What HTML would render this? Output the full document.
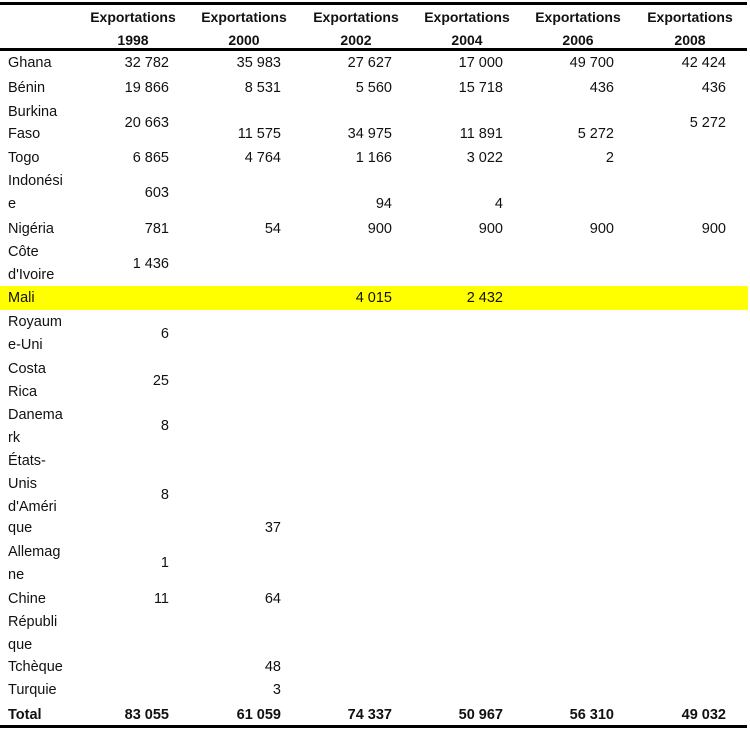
<!DOCTYPE html>
<html><head><meta charset="utf-8"><style>
body{margin:0;width:750px;height:730px;background:#fff;position:relative;overflow:hidden;font-family:"Liberation Sans",sans-serif;font-size:14.5px;color:#111}
.t{position:absolute;line-height:20px;white-space:nowrap}
.l{left:8px}
.r{text-align:right;width:100px}
.h{font-weight:bold;text-align:center;width:112px;font-size:14px}
.b{font-weight:bold}
.line{position:absolute;left:0;width:747px;background:#000}
</style></head><body>
<div class="line" style="top:2px;height:3px"></div>
<div class="line" style="top:48px;height:3px"></div>
<div class="line" style="top:725px;height:3px"></div>
<div style="position:absolute;left:0;top:286px;width:748px;height:24px;background:#ffff00"></div>

<div class="t h" style="left:77px;top:7px">Exportations</div><div class="t h" style="left:77px;top:30px">1998</div>
<div class="t h" style="left:188px;top:7px">Exportations</div><div class="t h" style="left:188px;top:30px">2000</div>
<div class="t h" style="left:300px;top:7px">Exportations</div><div class="t h" style="left:300px;top:30px">2002</div>
<div class="t h" style="left:411px;top:7px">Exportations</div><div class="t h" style="left:411px;top:30px">2004</div>
<div class="t h" style="left:522px;top:7px">Exportations</div><div class="t h" style="left:522px;top:30px">2006</div>
<div class="t h" style="left:634px;top:7px">Exportations</div><div class="t h" style="left:634px;top:30px">2008</div>

<div class="t l" style="top:53px">Ghana</div>
<div class="t r" style="left:69px;top:53px">32 782</div><div class="t r" style="left:181px;top:53px">35 983</div><div class="t r" style="left:292px;top:53px">27 627</div><div class="t r" style="left:403px;top:53px">17 000</div><div class="t r" style="left:514px;top:53px">49 700</div><div class="t r" style="left:626px;top:53px">42 424</div>

<div class="t l" style="top:78px">Bénin</div>
<div class="t r" style="left:69px;top:78px">19 866</div><div class="t r" style="left:181px;top:78px">8 531</div><div class="t r" style="left:292px;top:78px">5 560</div><div class="t r" style="left:403px;top:78px">15 718</div><div class="t r" style="left:514px;top:78px">436</div><div class="t r" style="left:626px;top:78px">436</div>

<div class="t l" style="top:102px">Burkina</div><div class="t l" style="top:124px">Faso</div>
<div class="t r" style="left:69px;top:113px">20 663</div><div class="t r" style="left:181px;top:124px">11 575</div><div class="t r" style="left:292px;top:124px">34 975</div><div class="t r" style="left:403px;top:124px">11 891</div><div class="t r" style="left:514px;top:124px">5 272</div><div class="t r" style="left:626px;top:113px">5 272</div>

<div class="t l" style="top:148px">Togo</div>
<div class="t r" style="left:69px;top:148px">6 865</div><div class="t r" style="left:181px;top:148px">4 764</div><div class="t r" style="left:292px;top:148px">1 166</div><div class="t r" style="left:403px;top:148px">3 022</div><div class="t r" style="left:514px;top:148px">2</div>

<div class="t l" style="top:171px">Indonési</div><div class="t l" style="top:194px">e</div>
<div class="t r" style="left:69px;top:183px">603</div><div class="t r" style="left:292px;top:194px">94</div><div class="t r" style="left:403px;top:194px">4</div>

<div class="t l" style="top:219px">Nigéria</div>
<div class="t r" style="left:69px;top:219px">781</div><div class="t r" style="left:181px;top:219px">54</div><div class="t r" style="left:292px;top:219px">900</div><div class="t r" style="left:403px;top:219px">900</div><div class="t r" style="left:514px;top:219px">900</div><div class="t r" style="left:626px;top:219px">900</div>

<div class="t l" style="top:242px">Côte</div><div class="t l" style="top:265px">d'Ivoire</div>
<div class="t r" style="left:69px;top:254px">1 436</div>

<div class="t l" style="top:288px">Mali</div>
<div class="t r" style="left:292px;top:288px">4 015</div><div class="t r" style="left:403px;top:288px">2 432</div>

<div class="t l" style="top:312px">Royaum</div><div class="t l" style="top:335px">e-Uni</div>
<div class="t r" style="left:69px;top:324px">6</div>

<div class="t l" style="top:359px">Costa</div><div class="t l" style="top:382px">Rica</div>
<div class="t r" style="left:69px;top:371px">25</div>

<div class="t l" style="top:405px">Danema</div><div class="t l" style="top:428px">rk</div>
<div class="t r" style="left:69px;top:416px">8</div>

<div class="t l" style="top:451px">États-</div><div class="t l" style="top:474px">Unis</div><div class="t l" style="top:497px">d'Améri</div><div class="t l" style="top:518px">que</div>
<div class="t r" style="left:69px;top:485px">8</div><div class="t r" style="left:181px;top:518px">37</div>

<div class="t l" style="top:542px">Allemag</div><div class="t l" style="top:565px">ne</div>
<div class="t r" style="left:69px;top:553px">1</div>

<div class="t l" style="top:589px">Chine</div>
<div class="t r" style="left:69px;top:589px">11</div><div class="t r" style="left:181px;top:589px">64</div>

<div class="t l" style="top:612px">Républi</div><div class="t l" style="top:635px">que</div><div class="t l" style="top:657px">Tchèque</div>
<div class="t r" style="left:181px;top:657px">48</div>

<div class="t l" style="top:680px">Turquie</div>
<div class="t r" style="left:181px;top:680px">3</div>

<div class="t l b" style="top:705px">Total</div>
<div class="t r b" style="left:69px;top:705px">83 055</div><div class="t r b" style="left:181px;top:705px">61 059</div><div class="t r b" style="left:292px;top:705px">74 337</div><div class="t r b" style="left:403px;top:705px">50 967</div><div class="t r b" style="left:514px;top:705px">56 310</div><div class="t r b" style="left:626px;top:705px">49 032</div>
</body></html>
